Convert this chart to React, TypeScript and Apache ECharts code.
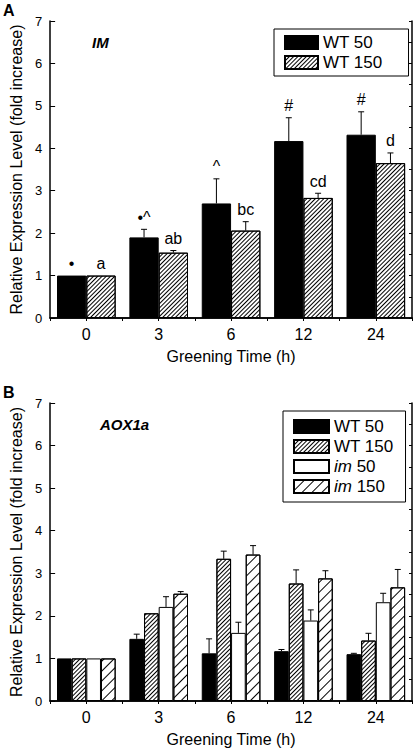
import React, { useEffect, useRef } from "react";
import * as echarts from "echarts";

const categories = ["0", "3", "6", "12", "24"];

// Panel A (IM)
const aWT50 = [1.0, 1.9, 2.7, 4.17, 4.32];
const aWT50Err = [0, 0.19, 0.58, 0.55, 0.54];
const aWT150 = [1.0, 1.54, 2.06, 2.83, 3.65];
const aWT150Err = [0, 0.05, 0.21, 0.11, 0.24];
const aWT50Marks = ["•", "•^", "^", "#", "#"];
const aWT150Marks = ["a", "ab", "bc", "cd", "d"];

// Panel B (AOX1a)
const bWT50 = [1.0, 1.46, 1.12, 1.17, 1.1];
const bWT50Err = [0, 0.11, 0.34, 0.04, 0.02];
const bWT150 = [1.0, 2.06, 3.34, 2.76, 1.42];
const bWT150Err = [0, 0, 0.18, 0.32, 0.17];
const bIm50 = [1.0, 2.21, 1.6, 1.89, 2.32];
const bIm50Err = [0, 0.24, 0.25, 0.25, 0.21];
const bIm150 = [1.0, 2.52, 3.44, 2.88, 2.67];
const bIm150Err = [0, 0.05, 0.21, 0.18, 0.42];

const yTicks = [0, 1, 2, 3, 4, 5, 6, 7];

const FONT = "'Liberation Sans', Arial, Helvetica, sans-serif";
const GAP = 0.19;

const denseHatch = {
  symbol: "rect",
  symbolSize: 1,
  dashArrayX: [1, 0],
  dashArrayY: [1, 2],
  rotation: -Math.PI / 4,
  color: "#000",
  backgroundColor: "#fff",
};
const sparseHatch = {
  symbol: "rect",
  symbolSize: 1,
  dashArrayX: [1, 0],
  dashArrayY: [1, 6],
  rotation: -Math.PI / 4,
  color: "#000",
  backgroundColor: "#fff",
};

const styles: Record<string, any> = {
  "WT 50": { color: "#000", borderColor: "#000", borderWidth: 1 },
  "WT 150": { color: "#fff", borderColor: "#000", borderWidth: 1, decal: denseHatch },
  "im 50": { color: "#fff", borderColor: "#000", borderWidth: 1 },
  "im 150": { color: "#fff", borderColor: "#000", borderWidth: 1, decal: sparseHatch },
};

function errSeries(
  axis: number,
  idx: number,
  n: number,
  vals: number[],
  errs: number[],
  marks: string[] | null
) {
  return {
    type: "custom",
    xAxisIndex: axis,
    yAxisIndex: axis,
    silent: true,
    z: 5,
    data: vals.map((v, i) => [i, v, errs[i]]),
    encode: { x: 0, y: 1 },
    renderItem: (params: any, api: any) => {
      const cat = api.value(0);
      const v = api.value(1);
      const e = api.value(2);
      const band = api.size([1, 0])[0];
      const total = band * (1 - GAP);
      const bw = total / n;
      const cx = api.coord([cat, 0])[0] - total / 2 + bw * (idx + 0.5);
      const yBar = api.coord([cat, v])[1];
      const yTop = api.coord([cat, v + e])[1];
      const children: any[] = [];
      if (e > 0) {
        children.push({
          type: "line",
          shape: { x1: cx, y1: yBar, x2: cx, y2: yTop },
          style: { stroke: "#000", lineWidth: 1 },
        });
        children.push({
          type: "line",
          shape: { x1: cx - 3, y1: yTop, x2: cx + 3, y2: yTop },
          style: { stroke: "#000", lineWidth: 1 },
        });
      }
      if (marks && marks[params.dataIndex]) {
        children.push({
          type: "text",
          x: cx,
          y: yTop - 4,
          style: {
            text: marks[params.dataIndex],
            fill: "#000",
            font: `16px ${FONT}`,
            align: "center",
            verticalAlign: "bottom",
          },
        });
      }
      return { type: "group", children };
    },
  };
}

function barSeries(axis: number, name: string, vals: number[]) {
  return {
    type: "bar",
    name,
    xAxisIndex: axis,
    yAxisIndex: axis,
    data: vals,
    barGap: "0%",
    barCategoryGap: GAP * 100 + "%",
    itemStyle: styles[name],
  };
}

function bottomAxis(grid: number) {
  return {
    type: "category",
    gridIndex: grid,
    data: categories,
    position: "bottom",
    axisLine: { show: true, lineStyle: { color: "#000", width: 1.5 } },
    axisTick: { show: false },
    axisLabel: { color: "#000", fontSize: 16, fontFamily: FONT, margin: 8 },
    name: "Greening Time (h)",
    nameLocation: "middle",
    nameGap: 30,
    nameTextStyle: { color: "#000", fontSize: 16, fontFamily: FONT },
  };
}
function topAxis(grid: number) {
  return {
    type: "value",
    gridIndex: grid,
    position: "top",
    min: 0,
    max: 10,
    interval: 1,
    axisLine: { show: true, lineStyle: { color: "#000", width: 1.5 } },
    axisTick: { show: true, inside: true, length: 3, lineStyle: { color: "#000" } },
    axisLabel: { show: false },
    splitLine: { show: false },
  };
}
function leftAxis(grid: number) {
  return {
    type: "value",
    gridIndex: grid,
    position: "left",
    min: 0,
    max: 7,
    interval: 1,
    axisLine: { show: true, lineStyle: { color: "#000", width: 1.5 } },
    axisTick: { show: true, inside: true, length: 5, lineStyle: { color: "#000" } },
    axisLabel: {
      color: "#000",
      fontSize: 13,
      fontFamily: FONT,
      margin: 8,
      formatter: (v: number) => (yTicks.includes(v) ? String(v) : ""),
    },
    splitLine: { show: false },
    name: "Relative Expression Level (fold increase)",
    nameLocation: "middle",
    nameGap: 23,
    nameTextStyle: { color: "#000", fontSize: 16, fontFamily: FONT },
  };
}
function rightAxis(grid: number) {
  return {
    type: "value",
    gridIndex: grid,
    position: "right",
    min: 0,
    max: 7,
    interval: 0.5,
    axisLine: { show: true, lineStyle: { color: "#000", width: 1.5 } },
    axisTick: { show: true, inside: true, length: 3, lineStyle: { color: "#000" } },
    axisLabel: { show: false },
    splitLine: { show: false },
  };
}

const legendFormatter = (name: string) =>
  name.startsWith("im") ? `{i|im}${name.slice(2)}` : name;

export default function App() {
  const ref = useRef<HTMLDivElement>(null);
  useEffect(() => {
    if (!ref.current) return;
    const chart = echarts.init(ref.current, undefined, { renderer: "svg" });
    const option: any = {
      animation: false,
      backgroundColor: "#fff",
      textStyle: { fontFamily: FONT },
      grid: [
        { left: 41, top: 21, width: 371, height: 297 },
        { left: 41, top: 403, width: 371, height: 298 },
      ],
      xAxis: [bottomAxis(0), topAxis(0), bottomAxis(1), topAxis(1)].map((a, i) => ({
        ...a,
        gridIndex: i < 2 ? 0 : 1,
      })),
      yAxis: [leftAxis(0), rightAxis(0), leftAxis(1), rightAxis(1)].map((a, i) => ({
        ...a,
        gridIndex: i < 2 ? 0 : 1,
      })),
      legend: [
        {
          data: ["WT 50", "WT 150"],
          orient: "vertical",
          left: 274,
          top: 29,
          padding: [5, 26, 5, 10],
          itemGap: 3,
          itemWidth: 33,
          itemHeight: 13,
          icon: "rect",
          borderColor: "#000",
          borderWidth: 1,
          selectedMode: false,
          textStyle: { color: "#000", fontSize: 17, fontFamily: FONT },
        },
        {
          data: ["WT 50", "WT 150", "im 50", "im 150"],
          orient: "vertical",
          left: 283,
          top: 411,
          padding: [7, 12, 7, 10],
          itemGap: 3,
          itemWidth: 35,
          itemHeight: 13,
          icon: "rect",
          borderColor: "#000",
          borderWidth: 1,
          selectedMode: false,
          formatter: legendFormatter,
          textStyle: {
            color: "#000",
            fontSize: 17,
            fontFamily: FONT,
            rich: { i: { fontStyle: "italic", fontSize: 17, fontFamily: FONT, color: "#000" } },
          },
        },
      ],
      graphic: [
        { type: "text", left: 3, top: 2, style: { text: "A", font: `bold 16px ${FONT}`, fill: "#000" } },
        { type: "text", left: 3, top: 384, style: { text: "B", font: `bold 16px ${FONT}`, fill: "#000" } },
        { type: "text", left: 92, top: 35, style: { text: "IM", font: `italic bold 15px ${FONT}`, fill: "#000" } },
        { type: "text", left: 100, top: 417, style: { text: "AOX1a", font: `italic bold 15px ${FONT}`, fill: "#000" } },
      ],
      series: [
        barSeries(0, "WT 50", aWT50),
        barSeries(0, "WT 150", aWT150),
        errSeries(0, 0, 2, aWT50, aWT50Err, aWT50Marks),
        errSeries(0, 1, 2, aWT150, aWT150Err, aWT150Marks),
        barSeries(2, "WT 50", bWT50),
        barSeries(2, "WT 150", bWT150),
        barSeries(2, "im 50", bIm50),
        barSeries(2, "im 150", bIm150),
        errSeries(2, 0, 4, bWT50, bWT50Err, null),
        errSeries(2, 1, 4, bWT150, bWT150Err, null),
        errSeries(2, 2, 4, bIm50, bIm50Err, null),
        errSeries(2, 3, 4, bIm150, bIm150Err, null),
      ],
    };
    chart.setOption(option);
    return () => chart.dispose();
  }, []);
  return (
    <div
      ref={ref}
      style={{ position: "fixed", left: 0, top: 0, width: 415, height: 748, background: "#fff" }}
    />
  );
}
